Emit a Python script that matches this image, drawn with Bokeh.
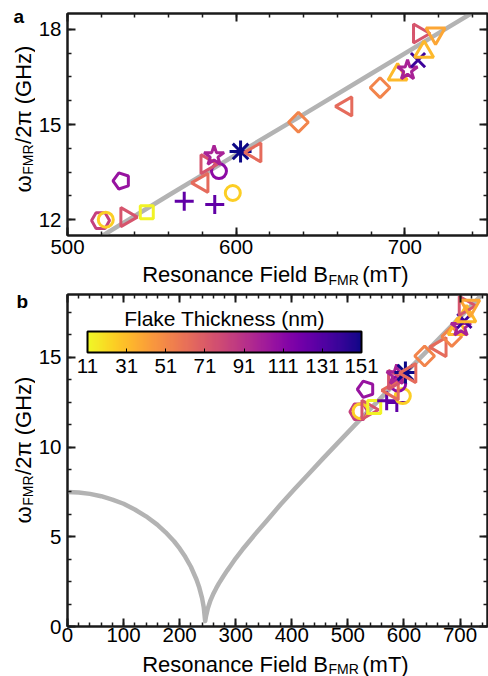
import math
from bokeh.plotting import figure
from bokeh.layouts import column, row
from bokeh.models import (ColumnDataSource, LinearColorMapper, ColorBar, Label, Range1d,
                          SingleIntervalTicker, FixedTicker, LinearAxis, CustomJSTickFormatter,
                          AllLabels)
from bokeh.palettes import Plasma256
from bokeh.transform import transform
from bokeh.embed import file_html
from bokeh.resources import INLINE

FONT = "Liberation Sans"

# ---------------- data ----------------
field_mT = [519.6, 522.7, 534.9, 547.0, 532.0, 569.2, 587.3, 598.0, 589.8, 580.0, 582.4, 586.9,
            602.6, 611.4, 636.9, 665.3, 685.3, 695.7, 701.6, 707.8, 711.4, 708.4, 718.2]
freq_GHz = [11.97, 12.00, 12.08, 12.23, 13.22, 12.58, 12.48, 12.84, 13.53, 13.16, 13.75, 14.01,
            14.15, 14.12, 15.07, 15.57, 16.16, 16.58, 16.71, 17.03, 17.29, 17.87, 17.87]
thickness_nm = [84, 25, 74, 13, 106, 126, 126, 25, 110, 64, 74, 99,
                151, 64, 53, 64, 53, 32, 99, 138, 32, 74, 39]
marker_kind = ["hex", "circle", "tri_right", "square", "pentagon", "cross", "cross", "circle",
               "circle", "tri_left", "tri_right", "star", "asterisk", "tri_left", "diamond",
               "tri_left", "diamond", "triangle", "star", "x", "triangle", "tri_right",
               "inverted_triangle"]

curve_field_mT = [0, 20, 40, 60, 80, 100, 120, 140, 160, 175, 190, 200, 210, 220, 230, 235, 240,
                  243, 245.5, 247, 250, 255, 260, 265, 270, 278, 285, 292, 300, 312, 335, 355,
                  380, 405, 430, 455, 480, 520, 560, 600, 640, 680, 720, 750]
curve_freq_GHz = [7.5, 7.47, 7.39, 7.26, 7.07, 6.84, 6.52, 6.14, 5.68, 5.25, 4.75, 4.35, 3.88,
                  3.33, 2.62, 2.17, 1.58, 1.07, 0.3, 0.57, 0.98, 1.46, 1.82, 2.12, 2.4, 2.8,
                  3.13, 3.44, 3.8, 4.29, 5.16, 5.88, 6.8, 7.66, 8.5, 9.34, 10.16, 11.47, 12.77,
                  14.05, 15.32, 16.6, 17.88, 18.84]

cbar_ticks = [11, 31, 51, 71, 91, 111, 131, 151]

# ---------------- styles ----------------
STYLE = {
    "hex": ("hex", 0.0, 18),
    "circle": ("circle", 0.0, 15),
    "tri_right": ("triangle", -math.pi / 2, 19),
    "tri_left": ("triangle", math.pi / 2, 19),
    "square": ("square", 0.0, 13),
    "cross": ("cross", 0.0, 19),
    "star": ("star", 0.0, 21),
    "asterisk": ("asterisk", 0.0, 22),
    "diamond": ("square", math.pi / 4, 14),
    "triangle": ("triangle", 0.0, 19),
    "inverted_triangle": ("inverted_triangle", 0.0, 19),
    "x": ("x", 0.0, 20),
}
W = {' ': .278, '(': .333, ')': .333, '/': .278, '2': .556, 'R': .722, 'e': .556, 's': .5,
     'o': .556, 'n': .556, 'a': .556, 'c': .5, 'F': .611, 'i': .222, 'l': .222, 'd': .556,
     'B': .667, 'M': .833, 'm': .833, 'T': .611, 'G': .778, 'H': .722, 'z': .5, 'ω': .781,
     'π': .6}


def tw(s, fs):
    return sum(W.get(c, .556) for c in s) * fs


mapper = LinearColorMapper(palette=list(reversed(Plasma256)), low=11, high=151.01)

idx = [i for i, k in enumerate(marker_kind) if k != "pentagon"]
pidx = [i for i, k in enumerate(marker_kind) if k == "pentagon"]

TICK_FS = "20.5px"
AX = "#1a1a1a"
FS, SFS = 22, 14
STRIP_W = 35
MAIN_W = 488 - STRIP_W


def style_axis(ax):
    ax.axis_line_color = AX
    ax.axis_line_width = 2
    ax.major_tick_in = 8
    ax.major_tick_out = 0
    ax.minor_tick_in = 4
    ax.minor_tick_out = 0
    ax.major_tick_line_color = AX
    ax.minor_tick_line_color = AX
    ax.major_tick_line_width = 2
    ax.minor_tick_line_width = 1.5
    ax.axis_label = None


def make_fig(height, xr, yr, xint, yint, mb_top, mb_bottom, x_standoff, y_standoff):
    p = figure(width=MAIN_W, height=height, x_range=Range1d(*xr), y_range=Range1d(*yr),
               output_backend="svg", toolbar_location=None,
               min_border_left=64 - STRIP_W, min_border_right=1, min_border_top=mb_top,
               min_border_bottom=mb_bottom)
    p.grid.visible = False
    p.outline_line_color = AX
    p.outline_line_width = 2
    xax, yax = p.xaxis[0], p.yaxis[0]
    xt = SingleIntervalTicker(interval=xint, num_minor_ticks=5)
    yt = SingleIntervalTicker(interval=yint, num_minor_ticks=4)
    xax.ticker = xt
    yax.ticker = yt
    for ax, so in ((xax, x_standoff), (yax, y_standoff)):
        style_axis(ax)
        ax.major_label_text_font = FONT
        ax.major_label_text_font_size = TICK_FS
        ax.major_label_text_color = "black"
        ax.major_label_standoff = so
    for side, tk in (("above", xt), ("right", yt)):
        extra = LinearAxis(ticker=tk, formatter=CustomJSTickFormatter(code="return ''"),
                           major_label_standoff=0)
        style_axis(extra)
        p.add_layout(extra, side)
    p.line(curve_field_mT, curve_freq_GHz, line_color="#b3b3b3", line_width=4.5,
           line_join="round")
    src = ColumnDataSource(dict(
        x=[field_mT[i] for i in idx], y=[freq_GHz[i] for i in idx],
        t=[thickness_nm[i] for i in idx],
        marker=[STYLE[marker_kind[i]][0] for i in idx],
        angle=[STYLE[marker_kind[i]][1] for i in idx],
        size=[STYLE[marker_kind[i]][2] for i in idx]))
    p.scatter("x", "y", source=src, marker="marker", angle="angle", size="size",
              fill_color=None, line_color=transform("t", mapper), line_width=3)
    psrc = ColumnDataSource(dict(x=[field_mT[i] for i in pidx], y=[freq_GHz[i] for i in pidx],
                                 t=[thickness_nm[i] for i in pidx]))
    p.ngon(x="x", y="y", radius=8.5, radius_units="screen", n=5, angle=math.pi / 2,
           source=psrc, fill_color=None, line_color=transform("t", mapper), line_width=3)
    return p


def blank(w, h):
    b = figure(width=w, height=h, x_range=Range1d(0, w), y_range=Range1d(0, h),
               output_backend="svg", toolbar_location=None, min_border=0,
               x_axis_type=None, y_axis_type=None, outline_line_color=None)
    b.grid.visible = False
    return b


def txt(fig, x, y, s, fs, angle=0.0, bold=False, align="left", units="data"):
    fig.add_layout(Label(x=x, y=y, x_units=units, y_units=units, text=s, angle=angle,
                         text_font=FONT, text_font_size=f"{fs}px", text_baseline="middle",
                         text_align=align, text_color="black", text_line_height=1.0,
                         text_font_style="bold" if bold else "normal"))


def xlabel_fig(h, mid, sub_mid):
    f = blank(MAIN_W, h)
    x1 = 316 - STRIP_W          # where the subscript starts
    txt(f, x1, mid, "Resonance Field B", FS, align="right")
    txt(f, x1 + 0.5, sub_mid, "FMR", SFS)
    txt(f, x1 + 0.5 + tw("FMR", SFS) + tw(" ", FS), mid, "(mT)", FS)
    return f


def ylabel_fig(h, center, letter, letter_xy):
    f = blank(STRIP_W, h)
    a, b, c = "ω", "FMR", "/2π (GHz)"
    L = tw(a, FS) + tw(b, SFS) + tw(c, FS)
    y1 = center - L / 2 + tw(a, FS)
    mx, sx = 22.5, 27
    txt(f, mx, y1, a, FS, angle=math.pi / 2, align="right")
    txt(f, sx, y1 + 0.5, b, SFS, angle=math.pi / 2)
    txt(f, mx, y1 + 1 + tw(b, SFS), c, FS, angle=math.pi / 2)
    txt(f, letter_xy[0], letter_xy[1], letter, 19, bold=True)
    return f


# ---------------- panel a ----------------
pa = make_fig(262, (500, 749), (11.5, 18.5), 100, 3, 13, 27, 4, 6)
xa = xlabel_fig(26, 13.6, 8.6)
ya = ylabel_fig(288, 168, "a", (13, 271.8))

# ---------------- panel b ----------------
pb = make_fig(362, (0, 749), (0, 18.5), 100, 5, 6, 24, 1, 6)
xb = xlabel_fig(26, 12.5, 7.5)
yb = ylabel_fig(388, 225, "b", (16, 374.8))

cb = ColorBar(color_mapper=mapper, orientation="horizontal", location=(20, 251), width=274,
              height=21, padding=0, margin=0, ticker=FixedTicker(ticks=cbar_ticks),
              major_label_policy=AllLabels(),
              major_label_text_font=FONT, major_label_text_font_size=TICK_FS,
              major_label_text_color="black", label_standoff=6, bar_line_color="black",
              bar_line_width=2, major_tick_line_color="black", major_tick_in=4,
              major_tick_out=0, background_fill_alpha=0, border_line_color=None)
pb.add_layout(cb)
txt(pb, 157, 308.5, "Flake Thickness (nm)", 21, align="center", units="screen")

layout = column(row(ya, column(pa, xa, spacing=0), spacing=0),
                row(yb, column(pb, xb, spacing=0), spacing=0), spacing=0)
open("out.html", "w").write(file_html(layout, INLINE))
